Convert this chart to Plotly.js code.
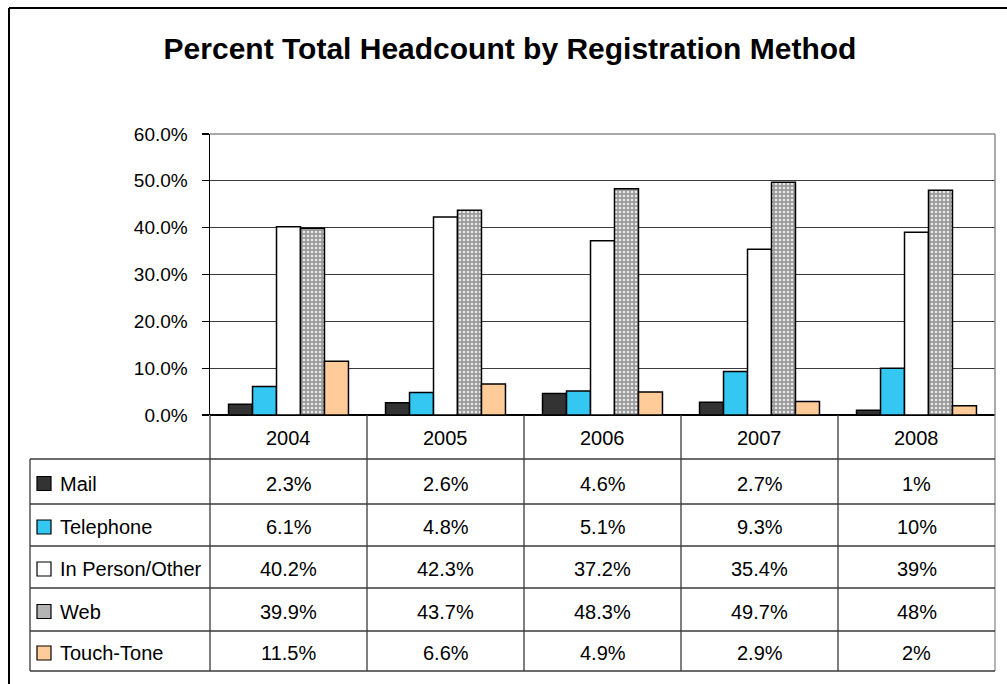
<!DOCTYPE html>
<html>
<head>
<meta charset="utf-8">
<script src="https://cdn.plot.ly/plotly-3.0.1.min.js"></script>
<style>html,body{margin:0;padding:0;background:#fff;}#chart{width:1007px;height:684px;}</style>
</head>
<body>
<div id="chart"></div>
<script>
// ---- data ----
const years = ["2004", "2005", "2006", "2007", "2008"];
const seriesNames = ["Mail", "Telephone", "In Person/Other", "Web", "Touch-Tone"];
const mail = [2.3, 2.6, 4.6, 2.7, 1];
const telephone = [6.1, 4.8, 5.1, 9.3, 10];
const inPerson = [40.2, 42.3, 37.2, 35.4, 39];
const web = [39.9, 43.7, 48.3, 49.7, 48];
const touchTone = [11.5, 6.6, 4.9, 2.9, 2];
const yTicks = [0, 10, 20, 30, 40, 50, 60];

const seriesValues = [mail, telephone, inPerson, web, touchTone];
const seriesColors = ["#333333", "#33C7F2", "#FFFFFF", "#A8A8A8", "#FFCC99"];

const W = 1007, H = 684;
const X = px => px / W;
const Y = py => 1 - py / H;

const plotL = 210, plotR = 995, plotT = 134, plotB = 415;
const tableL = 30;
const rowLines = [459, 504, 546, 588, 631, 671];
const FONT = "'Liberation Sans', Arial, sans-serif";

const traces = seriesNames.map((name, i) => {
  const t = {
    type: "bar",
    name: name,
    x: years,
    y: seriesValues[i],
    marker: {color: seriesColors[i], line: {color: "#000000", width: 1.5}},
    hoverinfo: "x+y+name"
  };
  if (name === "Web") {
    t.marker.pattern = {shape: ".", bgcolor: "#9a9a9a", fgcolor: "#e8e8e8", size: 4, solidity: 0.35};
  }
  return t;
});

const shapes = [];
const annotations = [];

// outer chart frame (top and left edges visible)
shapes.push({type: "line", xref: "paper", yref: "paper", x0: X(9), x1: X(1010), y0: Y(8), y1: Y(8), line: {color: "#000", width: 2}});
shapes.push({type: "line", xref: "paper", yref: "paper", x0: X(9), x1: X(9), y0: Y(8), y1: Y(690), line: {color: "#000", width: 2}});

// plot area border: top and right in gray
shapes.push({type: "line", xref: "paper", yref: "paper", x0: X(plotL), x1: X(plotR), y0: Y(plotT), y1: Y(plotT), line: {color: "#8c8c8c", width: 1.5}});
shapes.push({type: "line", xref: "paper", yref: "paper", x0: X(plotR), x1: X(plotR), y0: Y(plotT), y1: Y(plotB), line: {color: "#8c8c8c", width: 1.5}});

// table: column boundaries
const colW = (plotR - plotL) / years.length;
for (let c = 0; c <= years.length; c++) {
  const x = plotL + c * colW;
  shapes.push({type: "line", xref: "paper", yref: "paper", x0: X(x), x1: X(x), y0: Y(plotB), y1: Y(rowLines[rowLines.length - 1]),
    line: {color: c === years.length ? "#8c8c8c" : "#3a3a3a", width: 1.3}});
}
// table left border for legend column
shapes.push({type: "line", xref: "paper", yref: "paper", x0: X(tableL), x1: X(tableL), y0: Y(rowLines[0]), y1: Y(rowLines[rowLines.length - 1]), line: {color: "#3a3a3a", width: 1.3}});
// row lines
rowLines.forEach(ry => {
  shapes.push({type: "line", xref: "paper", yref: "paper", x0: X(tableL), x1: X(plotR), y0: Y(ry), y1: Y(ry), line: {color: "#3a3a3a", width: 1.3}});
});

// header (year labels)
years.forEach((yr, c) => {
  annotations.push({xref: "paper", yref: "paper", x: X(plotL + (c + 0.5) * colW), y: Y((plotB + rowLines[0]) / 2 + 1),
    text: yr, showarrow: false, xanchor: "center", yanchor: "middle", font: {family: FONT, size: 20, color: "#000"}});
});

const fmt = v => (Number.isInteger(v) ? v.toString() : v.toFixed(1)) + "%";

// rows
seriesNames.forEach((name, r) => {
  const top = rowLines[r], bot = rowLines[r + 1];
  const cy = (top + bot) / 2 + 2;
  // legend key
  const key = {type: "rect", xref: "paper", yref: "paper", x0: X(37), x1: X(51), y0: Y(cy - 7), y1: Y(cy + 7),
    fillcolor: seriesColors[r], line: {color: "#000", width: 1.2}};
  if (name === "Web") key.fillcolor = "#b4b4b4";
  shapes.push(key);
  annotations.push({xref: "paper", yref: "paper", x: X(58), y: Y(cy), text: name, showarrow: false,
    xanchor: "left", yanchor: "middle", font: {family: FONT, size: 20, color: "#000"}});
  seriesValues[r].forEach((v, c) => {
    annotations.push({xref: "paper", yref: "paper", x: X(plotL + (c + 0.5) * colW), y: Y(cy), text: fmt(v), showarrow: false,
      xanchor: "center", yanchor: "middle", font: {family: FONT, size: 20, color: "#000"}});
  });
});

const layout = {
  width: W, height: H,
  margin: {l: 0, r: 0, t: 0, b: 0},
  paper_bgcolor: "#ffffff",
  plot_bgcolor: "#ffffff",
  showlegend: false,
  barmode: "group",
  bargap: 0.236,
  bargroupgap: 0,
  title: {text: "<b>Percent Total Headcount by Registration Method</b>", x: X(510), xanchor: "center", y: Y(48), yanchor: "middle",
    font: {family: FONT, size: 30, color: "#000"}},
  xaxis: {domain: [X(plotL), X(plotR)], showticklabels: false, ticks: "", showgrid: false, zeroline: false,
    showline: false, fixedrange: true},
  yaxis: {domain: [Y(plotB), Y(plotT)], range: [0, 60], tickvals: yTicks, ticktext: yTicks.map(v => v.toFixed(1) + "%"),
    ticks: "outside", ticklen: 7, tickcolor: "#000", tickwidth: 1.3, ticklabelstandoff: 10,
    showline: true, linecolor: "#000", linewidth: 1.5, gridcolor: "#3a3a3a", gridwidth: 1,
    zeroline: true, zerolinecolor: "#000", zerolinewidth: 1.5,
    tickfont: {family: FONT, size: 19, color: "#000"}, fixedrange: true},
  shapes: shapes,
  annotations: annotations
};

Plotly.newPlot("chart", traces, layout, {displayModeBar: false, staticPlot: true});
</script>
</body>
</html>
